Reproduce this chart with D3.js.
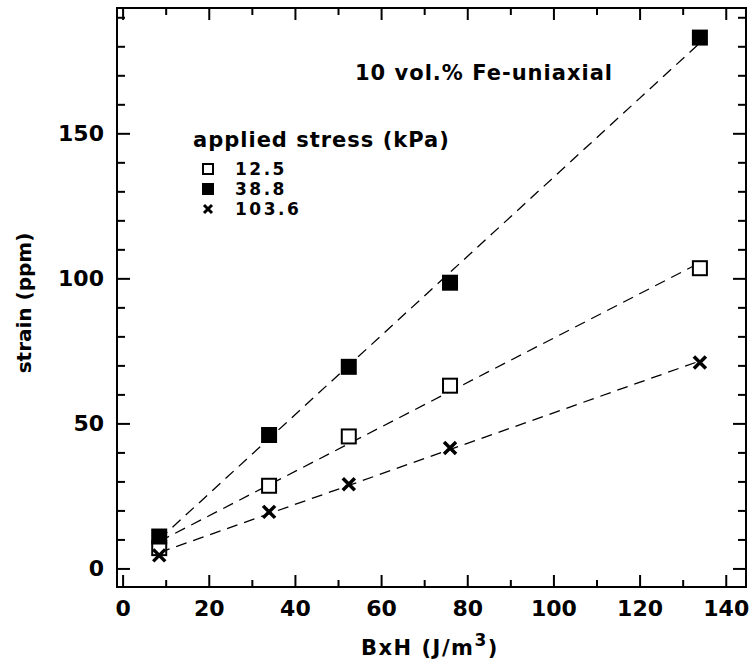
<!DOCTYPE html>
<html>
<head>
<meta charset="utf-8">
<script src="https://cdn.jsdelivr.net/npm/d3@7/dist/d3.min.js"></script>
<style>
  body { margin: 0; background: #fff; }
  text { font-family: "DejaVu Sans", sans-serif; font-weight: bold; fill: #000; }
</style>
</head>
<body>
<div id="chart"></div>
<script>
// data
const bxh = [8.5, 34, 52.5, 76, 134]
const stress = ['12.5', '38.8', '103.6']
const strain125 = [7, 28.5, 45.5, 63, 103.5]
const strain388 = [11, 46, 69.5, 98.5, 183]
const strain1036 = [4.5, 19.5, 29, 41.5, 71]
const markers = ['open', 'filled', 'cross']
const xMajor = [0, 20, 40, 60, 80, 100, 120, 140]
const xMinor = [10, 30, 50, 70, 90, 110, 130]
const yMajor = [0, 50, 100, 150]
const yMinor = [10, 20, 30, 40, 60, 70, 80, 90, 110, 120, 130, 140, 160, 170, 180, 190]

const width = 750
const height = 662
const svg = d3.select('#chart').append('svg')
    .attr('width', width).attr('height', height)

const x = d3.scaleLinear().domain([-1.3, 144.7]).range([117, 746])
const y = d3.scaleLinear().domain([-6.4, 193.2]).range([587, 8])

const series = [strain125, strain388, strain1036]

// axes, ticks point inward on all four sides
const g = svg.append('g')
const axisStyle = sel => {
    sel.select('.domain').remove()
    sel.selectAll('line').attr('stroke', '#000').attr('stroke-width', 2)
    sel.selectAll('text').style('font-size', '22px')
}
g.append('g').attr('transform', `translate(0,${y.range()[0]})`)
    .call(d3.axisBottom(x).tickValues(xMajor).tickSizeInner(-12).tickSizeOuter(0).tickPadding(13))
    .call(axisStyle)
g.append('g').attr('transform', `translate(0,${y.range()[0]})`)
    .call(d3.axisBottom(x).tickValues(xMinor).tickSizeInner(-7).tickSizeOuter(0).tickFormat(''))
    .call(axisStyle)
g.append('g').attr('transform', `translate(0,${y.range()[1]})`)
    .call(d3.axisTop(x).tickValues(xMajor).tickSizeInner(-12).tickSizeOuter(0).tickFormat(''))
    .call(axisStyle)
g.append('g').attr('transform', `translate(0,${y.range()[1]})`)
    .call(d3.axisTop(x).tickValues(xMinor).tickSizeInner(-7).tickSizeOuter(0).tickFormat(''))
    .call(axisStyle)
g.append('g').attr('transform', `translate(${x.range()[0]},0)`)
    .call(d3.axisLeft(y).tickValues(yMajor).tickSizeInner(-13).tickSizeOuter(0).tickPadding(13))
    .call(axisStyle)
g.append('g').attr('transform', `translate(${x.range()[0]},0)`)
    .call(d3.axisLeft(y).tickValues(yMinor).tickSizeInner(-8).tickSizeOuter(0).tickFormat(''))
    .call(axisStyle)
g.append('g').attr('transform', `translate(${x.range()[1]},0)`)
    .call(d3.axisRight(y).tickValues(yMajor).tickSizeInner(-13).tickSizeOuter(0).tickFormat(''))
    .call(axisStyle)
g.append('g').attr('transform', `translate(${x.range()[1]},0)`)
    .call(d3.axisRight(y).tickValues(yMinor).tickSizeInner(-8).tickSizeOuter(0).tickFormat(''))
    .call(axisStyle)

svg.append('rect')
    .attr('x', x.range()[0]).attr('y', y.range()[1])
    .attr('width', x.range()[1] - x.range()[0]).attr('height', y.range()[0] - y.range()[1])
    .attr('fill', 'none').attr('stroke', '#000').attr('stroke-width', 2)

// least squares lines
const fit = ys => {
    const mx = d3.mean(bxh), my = d3.mean(ys)
    const b = d3.sum(bxh, (d, i) => (d - mx) * (ys[i] - my)) / d3.sum(bxh, d => (d - mx) * (d - mx))
    return [b, my - b * mx]
}
series.forEach(ys => {
    const [b, a] = fit(ys)
    const x0 = d3.min(bxh), x1 = d3.max(bxh)
    svg.append('line')
        .attr('x1', x(x0)).attr('y1', y(a + b * x0))
        .attr('x2', x(x1)).attr('y2', y(a + b * x1))
        .attr('stroke', '#000').attr('stroke-width', 1.3)
        .attr('stroke-dasharray', '11,7')
})

const drawMarker = (sel, type, cx, cy, s) => {
    if (type === 'cross') {
        const h = s / 2 - 1
        sel.append('path')
            .attr('d', `M${cx - h},${cy - h}L${cx + h},${cy + h}M${cx - h},${cy + h}L${cx + h},${cy - h}`)
            .attr('stroke', '#000').attr('stroke-width', s > 12 ? 3.5 : 3).attr('fill', 'none')
    } else {
        sel.append('rect')
            .attr('x', cx - s / 2).attr('y', cy - s / 2)
            .attr('width', s).attr('height', s)
            .attr('fill', type === 'filled' ? '#000' : '#fff')
            .attr('stroke', '#000').attr('stroke-width', 2)
    }
}

series.forEach((ys, k) => {
    const pts = svg.append('g')
    ys.forEach((v, i) => drawMarker(pts, markers[k], x(bxh[i]), y(v), 14))
})

// legend
svg.append('text').attr('x', 193).attr('y', 147)
    .style('font-size', '21px').style('letter-spacing', '1px')
    .text('applied stress (kPa)')
stress.forEach((s, i) => {
    const cy = 169 + i * 20
    drawMarker(svg, markers[i], 208, cy, 10)
    svg.append('text').attr('x', 235).attr('y', cy + 6)
        .style('font-size', '17px').style('letter-spacing', '2.5px').text(s)
})

svg.append('text').attr('x', 355).attr('y', 80)
    .style('font-size', '21px').style('letter-spacing', '1px')
    .text('10 vol.% Fe-uniaxial')

// axis titles
const xt = svg.append('text').attr('x', 430).attr('y', 655).attr('text-anchor', 'middle')
    .style('font-size', '21px').style('letter-spacing', '1.5px')
xt.append('tspan').text('BxH (J/m')
xt.append('tspan').attr('dy', -9).style('font-size', '17px').text('3')
xt.append('tspan').attr('dy', 9).text(')')

svg.append('text').attr('transform', 'translate(31,303) rotate(-90)')
    .attr('text-anchor', 'middle').style('font-size', '20px').text('strain (ppm)')
</script>
</body>
</html>
